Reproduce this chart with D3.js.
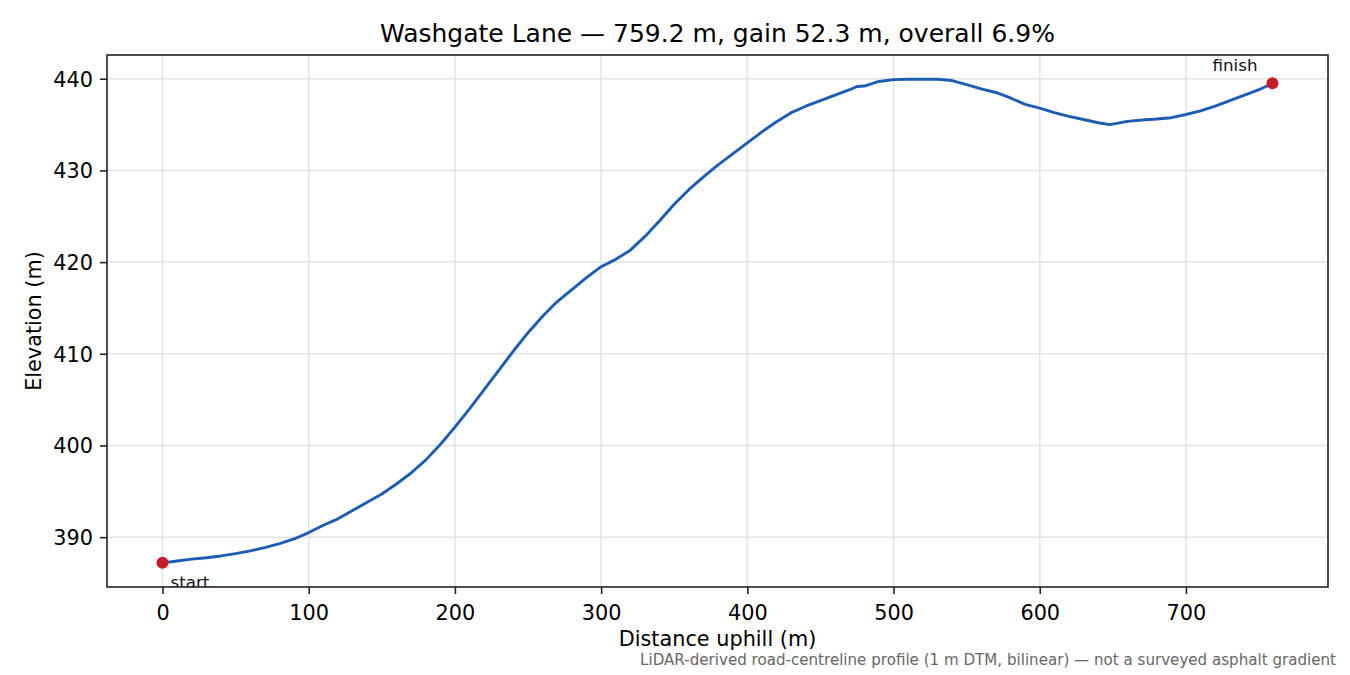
<!DOCTYPE html>
<html>
<head>
<meta charset="utf-8">
<script src="https://cdn.jsdelivr.net/npm/d3@7"></script>
<style>
  body { margin: 0; background: #fff; }
  svg { font-family: "DejaVu Sans", sans-serif; }
</style>
</head>
<body>
<div id="chart"></div>
<script>
// distance along the road (m) and elevation (m)
const distance = [0, 10, 20, 30, 40, 50, 60, 70, 80, 90, 100, 110, 120, 130, 140, 150, 160, 170, 180, 190,
  200, 210, 220, 230, 240, 250, 260, 270, 280, 290, 300, 310, 320, 330, 340, 350, 360, 370, 380, 390,
  400, 410, 420, 430, 440, 450, 460, 470, 475, 480, 490, 500, 510, 520, 530, 540, 550, 560, 570, 580,
  590, 600, 610, 620, 630, 640, 648, 660, 670, 680, 690, 700, 710, 720, 730, 740, 750, 759.2];
const elevation = [387.2, 387.4, 387.6, 387.75, 387.95, 388.2, 388.5, 388.85, 389.3, 389.8, 390.5, 391.3, 392.0, 392.9, 393.8, 394.7, 395.8, 397.0, 398.4, 400.1,
  402.0, 404.0, 406.1, 408.2, 410.3, 412.3, 414.1, 415.7, 417.0, 418.3, 419.5, 420.3, 421.3, 422.8, 424.5, 426.3, 427.9, 429.3, 430.6, 431.8,
  433.0, 434.2, 435.3, 436.3, 437.0, 437.6, 438.2, 438.8, 439.15, 439.2, 439.7, 439.9, 439.95, 439.95, 439.95, 439.8, 439.35, 438.9, 438.5, 437.9,
  437.2, 436.8, 436.3, 435.9, 435.55, 435.2, 435.0, 435.35, 435.5, 435.6, 435.75, 436.1, 436.5, 437.0, 437.6, 438.2, 438.8, 439.5];

const xTicks = [0, 100, 200, 300, 400, 500, 600, 700];
const yTicks = [390, 400, 410, 420, 430, 440];

const titleText = "Washgate Lane \u2014 759.2 m, gain 52.3 m, overall 6.9%";
const noteText = "LiDAR-derived road-centreline profile (1 m DTM, bilinear) \u2014 not a surveyed asphalt gradient";

const data = distance.map((d, i) => ({ d: d, e: elevation[i] }));

const W = 1350, H = 675;
const margin = { top: 55, right: 22, bottom: 88, left: 107 },
  width = W - margin.left - margin.right,
  height = H - margin.top - margin.bottom;

const svg = d3.select("#chart").append("svg")
  .attr("width", W)
  .attr("height", H);

const g = svg.append("g")
  .attr("transform", `translate(${margin.left}, ${margin.top})`);

// matplotlib-like 5% padding
const xMin = d3.min(distance), xMax = d3.max(distance);
const yMin = d3.min(elevation), yMax = d3.max(elevation);
const xPad = (xMax - xMin) * 0.05, yPad = (yMax - yMin) * 0.05;

const x = d3.scaleLinear()
  .domain([xMin - xPad, xMax + xPad])
  .range([0, width]);
const y = d3.scaleLinear()
  .domain([yMin - yPad, yMax + yPad])
  .range([height, 0]);

g.append("clipPath").attr("id", "plotclip")
  .append("rect").attr("width", width).attr("height", height);

// grid
g.append("g")
  .selectAll("line")
  .data(xTicks)
  .join("line")
  .attr("x1", d => x(d)).attr("x2", d => x(d))
  .attr("y1", 0).attr("y2", height)
  .attr("stroke", "#e3e3e3").attr("stroke-width", 1.5);
g.append("g")
  .selectAll("line")
  .data(yTicks)
  .join("line")
  .attr("x1", 0).attr("x2", width)
  .attr("y1", d => y(d)).attr("y2", d => y(d))
  .attr("stroke", "#e3e3e3").attr("stroke-width", 1.5);

// profile line
const line = d3.line()
  .x(d => x(d.d))
  .y(d => y(d.e));

const plot = g.append("g").attr("clip-path", "url(#plotclip)");

plot.append("path")
  .datum(data)
  .attr("fill", "none")
  .attr("stroke", "#1c5db3")
  .attr("stroke-width", 2.9)
  .attr("stroke-linejoin", "round")
  .attr("d", line);

const ends = [data[0], data[data.length - 1]];
plot.selectAll("circle")
  .data(ends)
  .join("circle")
  .attr("cx", d => x(d.d))
  .attr("cy", d => y(d.e))
  .attr("r", 6)
  .attr("fill", "#c41e2b");

plot.append("text")
  .attr("x", x(ends[0].d) + 8)
  .attr("y", y(ends[0].e) + 25)
  .attr("font-size", "16.7px")
  .attr("fill", "#111")
  .text("start");

plot.append("text")
  .attr("x", x(ends[1].d) - 15)
  .attr("y", y(ends[1].e) - 12)
  .attr("text-anchor", "end")
  .attr("font-size", "16.7px")
  .attr("fill", "#111")
  .text("finish");

// axes
const xAxis = g.append("g")
  .attr("transform", `translate(0, ${height})`)
  .call(d3.axisBottom(x).tickValues(xTicks).tickSize(7).tickPadding(7).tickSizeOuter(0));
const yAxis = g.append("g")
  .call(d3.axisLeft(y).tickValues(yTicks).tickSize(7).tickPadding(7).tickSizeOuter(0));

[xAxis, yAxis].forEach(a => {
  a.select(".domain").remove();
  a.selectAll(".tick line").attr("stroke", "#222").attr("stroke-width", 1.6);
  a.selectAll(".tick text")
    .attr("font-family", "DejaVu Sans, sans-serif")
    .attr("font-size", "20.8px")
    .attr("fill", "#000");
});
xAxis.selectAll(".tick text").attr("dy", "0.9em");
yAxis.selectAll(".tick text").attr("dy", "0.35em");

// frame
g.append("rect")
  .attr("width", width).attr("height", height)
  .attr("fill", "none")
  .attr("stroke", "#222")
  .attr("stroke-width", 1.6);

// labels
svg.append("text")
  .attr("x", margin.left + width / 2)
  .attr("y", 42)
  .attr("text-anchor", "middle")
  .attr("font-size", "25px")
  .attr("fill", "#000")
  .text(titleText);

svg.append("text")
  .attr("x", margin.left + width / 2)
  .attr("y", 646)
  .attr("text-anchor", "middle")
  .attr("font-size", "20.8px")
  .attr("fill", "#000")
  .text("Distance uphill (m)");

svg.append("text")
  .attr("transform", `translate(41, ${margin.top + height / 2}) rotate(-90)`)
  .attr("text-anchor", "middle")
  .attr("font-size", "20.8px")
  .attr("fill", "#000")
  .text("Elevation (m)");

svg.append("text")
  .attr("x", 1336)
  .attr("y", 665)
  .attr("text-anchor", "end")
  .attr("font-size", "15.1px")
  .attr("fill", "#666")
  .text(noteText);
</script>
</body>
</html>
